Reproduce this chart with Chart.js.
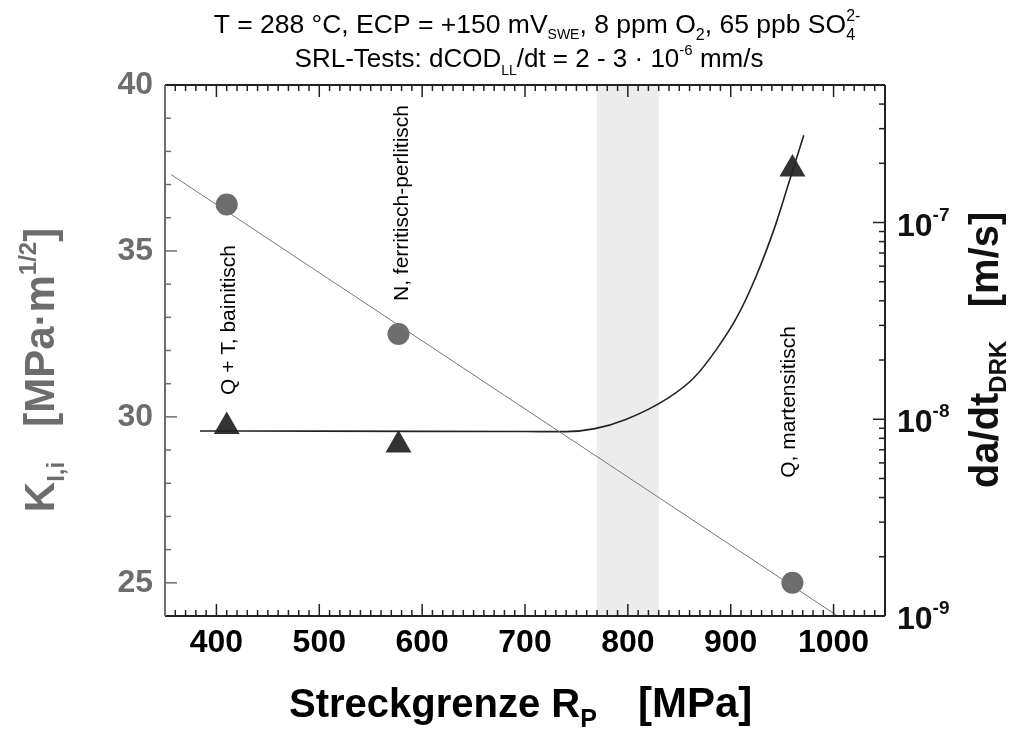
<!DOCTYPE html>
<html>
<head>
<meta charset="utf-8">
<script src="https://cdn.jsdelivr.net/npm/chart.js@4.4.0/dist/chart.umd.min.js"></script>
<style>
  body { margin: 0; background: #fff; }
  #wrap { width: 1018px; height: 731px; }
</style>
</head>
<body>
<div id="wrap"><canvas id="chart" width="1018" height="731"></canvas></div>
<script>
// Messpunkte: Streckgrenze R_p [MPa]
const rpPoints = [410, 577, 960];
// K_I,i [MPa m^1/2] (Kreise, linke Achse)
const kiValues = [36.4, 32.5, 25.0];
// da/dt_DRK [m/s] (Dreiecke, rechte Achse)
const dadtValues = [9.2e-9, 7.4e-9, 1.87e-7];

// Ausgleichsgerade K_I,i
const fitRp = [356, 1004];
const fitKi = [37.3, 24.0];

// Kurve da/dt
const curveRp = [384, 500, 600, 700, 740, 768, 798, 839, 864, 886, 906, 925, 943, 956, 971];
const curveDadt = [8.72e-9, 8.70e-9, 8.68e-9, 8.66e-9, 8.65e-9, 8.96e-9, 9.97e-9, 1.28e-8, 1.62e-8,
                   2.26e-8, 3.30e-8, 5.38e-8, 9.53e-8, 1.56e-7, 2.78e-7];

// grau hinterlegter Bereich
const bandRp = [770, 830];

const xTicks = [400, 500, 600, 700, 800, 900, 1000];
const kTicks = [25, 30, 35, 40];
const rTicks = [1e-9, 1e-8, 1e-7];
const rTickExp = ['-9', '-8', '-7'];

const FONT = "'Liberation Sans', Arial, sans-serif";
const GREY = '#6d6d6d';

function rich(ctx, parts, x, y, align) {
  let w = 0;
  parts.forEach(p => {
    ctx.font = (p.b ? 'bold ' : '') + p.s + 'px ' + FONT;
    if (!p.keep) w += ctx.measureText(p.t).width;
  });
  let cx = align === 'center' ? x - w / 2 : (align === 'right' ? x - w : x);
  ctx.textAlign = 'left';
  ctx.textBaseline = 'alphabetic';
  parts.forEach(p => {
    ctx.font = (p.b ? 'bold ' : '') + p.s + 'px ' + FONT;
    ctx.fillText(p.t, cx, y + (p.dy || 0));
    if (!p.keep) cx += ctx.measureText(p.t).width;
  });
}

function line(ctx, x1, y1, x2, y2) {
  ctx.beginPath();
  ctx.moveTo(x1, y1);
  ctx.lineTo(x2, y2);
  ctx.stroke();
}

const decor = {
  id: 'decor',
  beforeDatasetsDraw(chart) {
    const { ctx, chartArea: a, scales: { x } } = chart;
    const x0 = x.getPixelForValue(bandRp[0]);
    const x1 = x.getPixelForValue(bandRp[1]);
    ctx.save();
    ctx.fillStyle = '#ececec';
    ctx.fillRect(x0, a.top, x1 - x0, a.bottom - a.top);
    ctx.restore();
  },
  afterDraw(chart) {
    const { ctx, chartArea: a, scales: { x, yK, yR } } = chart;
    ctx.save();

    // Ticks unten/oben
    ctx.strokeStyle = '#222';
    ctx.lineWidth = 1.5;
    for (let v = 350; v <= 1050; v += 10) {
      const px = x.getPixelForValue(v);
      const len = v % 100 === 0 ? 12 : 6;
      line(ctx, px, a.bottom, px, a.bottom - len);
      line(ctx, px, a.top, px, a.top + len);
    }
    // Ticks rechts (log)
    for (let e = -9; e <= -7; e++) {
      for (let m = 1; m <= 9; m++) {
        const v = m * Math.pow(10, e);
        if (v > yR.max * 1.0001) break;
        const py = yR.getPixelForValue(v);
        line(ctx, a.right, py, a.right - (m === 1 ? 12 : 6), py);
      }
    }
    // Ticks links (grau)
    ctx.strokeStyle = GREY;
    for (let v = 24; v <= 40; v++) {
      const py = yK.getPixelForValue(v);
      line(ctx, a.left, py, a.left + (v % 5 === 0 ? 12 : 6), py);
    }

    // Rahmen
    ctx.lineWidth = 2;
    ctx.strokeStyle = '#222';
    line(ctx, a.left, a.top, a.right, a.top);
    line(ctx, a.left, a.bottom, a.right, a.bottom);
    line(ctx, a.right, a.top, a.right, a.bottom);
    ctx.strokeStyle = GREY;
    line(ctx, a.left, a.top, a.left, a.bottom);

    // rechte Tick-Beschriftung 10^n
    ctx.fillStyle = '#111';
    rTicks.forEach((v, i) => {
      const py = yR.getPixelForValue(v);
      rich(ctx, [
        { t: '10', s: 32, b: true },
        { t: rTickExp[i], s: 19, b: true, dy: -15 }
      ], a.right + 12, py + 13, 'left');
    });

    // Titel
    ctx.fillStyle = '#000';
    rich(ctx, [
      { t: 'T = 288 °C, ECP = +150 mV', s: 26.5 },
      { t: 'SWE', s: 14, dy: 6 },
      { t: ', 8 ppm O', s: 26.5 },
      { t: '2', s: 16, dy: 7 },
      { t: ', 65 ppb SO', s: 26.5 },
      { t: '4', s: 16, dy: 7, keep: true },
      { t: '2-', s: 16, dy: -12 }
    ], 537, 33, 'center');
    rich(ctx, [
      { t: 'SRL-Tests: dCOD', s: 26 },
      { t: 'LL', s: 14, dy: 8 },
      { t: '/dt = 2 - 3 · 10', s: 26 },
      { t: '-6', s: 15, dy: -12 },
      { t: ' mm/s', s: 26 }
    ], 529, 67, 'center');

    // x-Achsentitel
    rich(ctx, [
      { t: 'Streckgrenze R', s: 40, b: true },
      { t: 'P', s: 25, b: true, dy: 10 }
    ], 289, 717, 'left');
    rich(ctx, [{ t: '[MPa]', s: 42, b: true }], 638, 717, 'left');

    // linker Achsentitel
    ctx.save();
    ctx.translate(54, 370);
    ctx.rotate(-Math.PI / 2);
    ctx.fillStyle = GREY;
    rich(ctx, [
      { t: 'K', s: 42, b: true },
      { t: 'I,i', s: 24, b: true, dy: 10 },
      { t: '   [MPa·m', s: 42, b: true },
      { t: '1/2', s: 24, b: true, dy: -18 },
      { t: ']', s: 42, b: true }
    ], 0, 0, 'center');
    ctx.restore();

    // rechter Achsentitel
    ctx.save();
    ctx.translate(998, 350);
    ctx.rotate(-Math.PI / 2);
    ctx.fillStyle = '#111';
    rich(ctx, [
      { t: 'da/dt', s: 40, b: true },
      { t: 'DRK', s: 24, b: true, dy: 8 },
      { t: '   [m/s]', s: 40, b: true }
    ], 0, 0, 'center');
    ctx.restore();

    // Gefuegebezeichnungen
    const notes = [
      ['Q + T, bainitisch', 235, 320],
      ['N, ferritisch-perlitisch', 408, 203],
      ['Q, martensitisch', 795, 402]
    ];
    ctx.fillStyle = '#000';
    ctx.font = '21px ' + FONT;
    ctx.textAlign = 'center';
    ctx.textBaseline = 'alphabetic';
    notes.forEach(([t, nx, ny]) => {
      ctx.save();
      ctx.translate(nx, ny);
      ctx.rotate(-Math.PI / 2);
      ctx.fillText(t, 0, 0);
      ctx.restore();
    });

    ctx.restore();
  }
};

new Chart(document.getElementById('chart'), {
  type: 'scatter',
  data: {
    datasets: [
      {
        label: 'Ausgleichsgerade',
        data: fitRp.map((v, i) => ({ x: v, y: fitKi[i] })),
        yAxisID: 'yK',
        showLine: true,
        borderColor: '#777',
        borderWidth: 1,
        pointRadius: 0
      },
      {
        label: 'K_I,i',
        data: rpPoints.map((v, i) => ({ x: v, y: kiValues[i] })),
        yAxisID: 'yK',
        pointStyle: 'circle',
        pointRadius: 11,
        backgroundColor: GREY,
        borderColor: GREY,
        borderWidth: 0
      },
      {
        label: 'Kurve',
        data: curveRp.map((v, i) => ({ x: v, y: curveDadt[i] })),
        yAxisID: 'yR',
        showLine: true,
        cubicInterpolationMode: 'monotone',
        borderColor: '#222',
        borderWidth: 1.6,
        pointRadius: 0
      },
      {
        label: 'da/dt',
        data: rpPoints.map((v, i) => ({ x: v, y: dadtValues[i] })),
        yAxisID: 'yR',
        pointStyle: 'triangle',
        pointRadius: 15,
        backgroundColor: '#333',
        borderColor: '#333',
        borderWidth: 0
      }
    ]
  },
  options: {
    responsive: false,
    animation: false,
    layout: { padding: { top: 85, left: 0, right: 0, bottom: 0 } },
    plugins: { legend: { display: false }, tooltip: { enabled: false } },
    scales: {
      x: {
        type: 'linear',
        min: 350,
        max: 1050,
        afterBuildTicks: s => { s.ticks = xTicks.map(v => ({ value: v })); },
        afterFit: s => { s.height = 115; },
        grid: { display: false, drawTicks: false },
        border: { display: false },
        ticks: {
          color: '#000',
          padding: 8,
          font: { family: FONT, size: 32, weight: 'bold' },
          callback: v => String(v)
        }
      },
      yK: {
        type: 'linear',
        position: 'left',
        min: 24,
        max: 40,
        afterBuildTicks: s => { s.ticks = kTicks.map(v => ({ value: v })); },
        afterFit: s => { s.width = 165; },
        grid: { display: false, drawTicks: false },
        border: { display: false },
        ticks: { color: GREY, padding: 12, font: { family: FONT, size: 32, weight: 'bold' } }
      },
      yR: {
        type: 'logarithmic',
        position: 'right',
        min: 1e-9,
        max: 5e-7,
        afterFit: s => { s.width = 133; },
        grid: { display: false, drawTicks: false },
        border: { display: false },
        ticks: { display: false }
      }
    }
  },
  plugins: [decor]
});
</script>
</body>
</html>
